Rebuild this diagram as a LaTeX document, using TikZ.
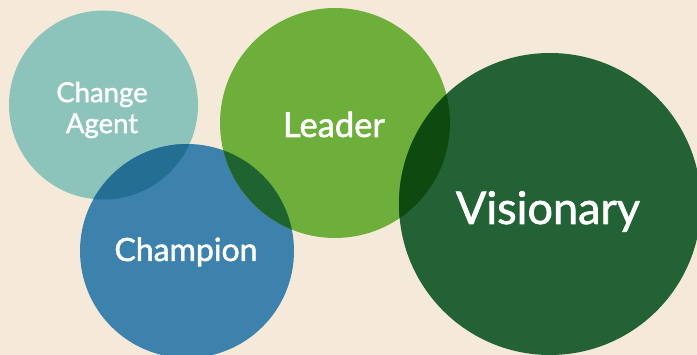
\documentclass[tikz,border=0pt]{standalone}
\usepackage{fontspec}
\setmainfont{Lato}
\newfontfamily\lblfont{Lato}[FakeBold=1.5]
\definecolor{bg}{HTML}{F5EAD9}
\definecolor{cteal}{HTML}{8CC3BA}
\definecolor{cblue}{HTML}{3C82AC}
\definecolor{cgreen}{HTML}{6EAE3B}
\definecolor{cdark}{HTML}{236234}
\definecolor{ovtb}{HTML}{246E94}
\definecolor{ovgb}{HTML}{1E6330}
\definecolor{ovgd}{HTML}{0E4A10}
\tikzset{lbl/.style={text=white, inner sep=0pt, align=center}}
\begin{document}
\begin{tikzpicture}[x=1pt,y=-1pt]
\useasboundingbox (0,0) rectangle (697,355);
\fill[bg] (0,0) rectangle (697,355);
\clip (0,0) rectangle (697,355);
% circles
\fill[cteal] (103.5,105) circle (94.5);
\fill[cblue] (187,251) circle (107);
\begin{scope}
  \clip (103.5,105) circle (94.5);
  \fill[ovtb] (187,251) circle (107);
\end{scope}
\fill[cgreen] (335,123) circle (115);
\begin{scope}
  \clip (187,251) circle (107);
  \fill[ovgb] (335,123) circle (115);
\end{scope}
\fill[cdark] (550,204) circle (151);
\begin{scope}
  \clip (335,123) circle (115);
  \fill[ovgd] (550,204) circle (151);
\end{scope}
% labels
\node[lbl, font=\lblfont\fontsize{27.5}{31}\selectfont] (ca) at (102,110) {Change\\Agent};
\node[lbl, font=\lblfont\fontsize{34.5}{40}\selectfont, anchor=base] (ld) at (334,137) {Leader};
\node[lbl, font=\lblfont\fontsize{32}{40}\selectfont, anchor=base] (ch) at (186,261) {Champion};
\node[lbl, font=\lblfont\fontsize{45}{50}\selectfont, anchor=base] (vi) at (548,224) {Visionary};
\end{tikzpicture}
\end{document}
